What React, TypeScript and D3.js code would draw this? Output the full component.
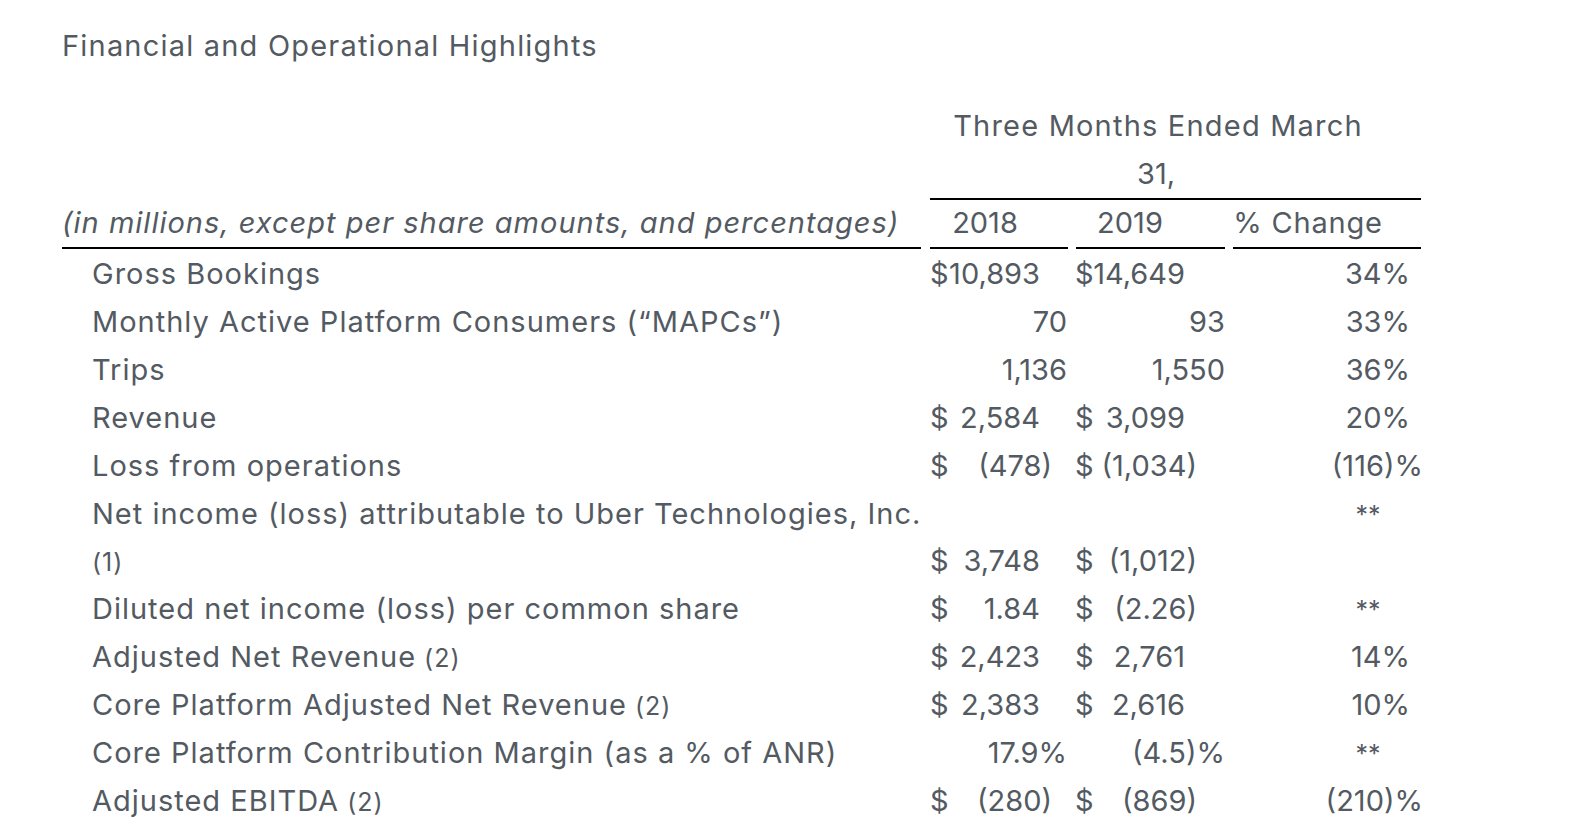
import React from "react";
import * as d3 from "d3";

const title = "Financial and Operational Highlights";
const periodHeader = ["Three Months Ended March", "31,"];
const unitsNote = "(in millions, except per share amounts, and percentages)";
const columnHeads = ["2018", "2019", "% Change"];

const metrics = [
  "Gross Bookings",
  "Monthly Active Platform Consumers (“MAPCs”)",
  "Trips",
  "Revenue",
  "Loss from operations",
  "Net income (loss) attributable to Uber Technologies, Inc.",
  "",
  "Diluted net income (loss) per common share",
  "Adjusted Net Revenue",
  "Core Platform Adjusted Net Revenue",
  "Core Platform Contribution Margin (as a % of ANR)",
  "Adjusted EBITDA",
];
const footnoteMarks = ["", "", "", "", "", "", "(1)", "", "(2)", "(2)", "", "(2)"];
const isCurrency = [true, false, false, true, true, false, true, true, true, true, false, true];
const q1_2018 = ["10,893", "70", "1,136", "2,584", "(478)", "", "3,748", "1.84", "2,423", "2,383", "17.9%", "(280)"];
const q1_2019 = ["14,649", "93", "1,550", "3,099", "(1,034)", "", "(1,012)", "(2.26)", "2,761", "2,616", "(4.5)%", "(869)"];
const pctChange = ["34%", "33%", "36%", "20%", "(116)%", "**", "", "**", "14%", "10%", "**", "(210)%"];

const W = 1574;
const H = 832;
const TEXT = "#535a62";
const FONT = "Inter, Roboto, sans-serif";
const FS = 29;
const FS_SMALL = 25;
const LS_LABEL = 1;
const LS_HEAD = 1.2;

export default function App() {
  const rowY = d3.scaleLinear().domain([0, metrics.length - 1]).range([284, 811]);
  const valueCols = [
    { values: q1_2018, dollarX: 930, numRight: 1040, plainRight: 1067, lineX0: 930, lineX1: 1068, headX: 985 },
    { values: q1_2019, dollarX: 1075, numRight: 1185, plainRight: 1225, lineX0: 1076, lineX1: 1225, headX: 1130 },
  ];
  const HANG = 12;
  const pct = { right: 1410, parenRight: 1423, starX: 1368, lineX0: 1233, lineX1: 1421, headX: 1308 };
  const labelX = 92;

  return (
    <svg
      width={W}
      height={H}
      viewBox={`0 0 ${W} ${H}`}
      style={{ position: "absolute", left: 0, top: 0, background: "#fff" }}
      fontFamily={FONT}
      fill={TEXT}
    >
      <rect width={W} height={H} fill="#fff" />
      <text x={62} y={56} fontSize={FS} letterSpacing={LS_HEAD}>{title}</text>

      <text x={1158} y={136} fontSize={FS} textAnchor="middle" letterSpacing={LS_HEAD}>{periodHeader[0]}</text>
      <text x={1156} y={184} fontSize={FS} textAnchor="middle">{periodHeader[1]}</text>
      <line x1={930} x2={1421} y1={199} y2={199} stroke="#000" strokeWidth={2} />

      <text x={62} y={233} fontSize={FS} fontStyle="italic" letterSpacing={LS_LABEL}>{unitsNote}</text>
      <text x={valueCols[0].headX} y={233} fontSize={FS} textAnchor="middle">{columnHeads[0]}</text>
      <text x={valueCols[1].headX} y={233} fontSize={FS} textAnchor="middle">{columnHeads[1]}</text>
      <text x={pct.headX} y={233} fontSize={FS} textAnchor="middle" letterSpacing={0.8}>{columnHeads[2]}</text>

      <line x1={62} x2={921} y1={248} y2={248} stroke="#000" strokeWidth={2} />
      {valueCols.map((c, i) => (
        <line key={i} x1={c.lineX0} x2={c.lineX1} y1={248} y2={248} stroke="#000" strokeWidth={2} />
      ))}
      <line x1={pct.lineX0} x2={pct.lineX1} y1={248} y2={248} stroke="#000" strokeWidth={2} />

      {metrics.map((m, i) => {
        const y = rowY(i);
        return (
          <g key={i}>
            <text x={labelX} y={y} fontSize={FS} letterSpacing={LS_LABEL}>
              {m}
              {footnoteMarks[i] && (
                <tspan fontSize={FS_SMALL}>{(m ? " " : "") + footnoteMarks[i]}</tspan>
              )}
            </text>
            {valueCols.map((c, j) => {
              const v = c.values[i];
              if (!v) return null;
              if (isCurrency[i]) {
                const paren = v.endsWith(")");
                return (
                  <g key={j}>
                    <text x={c.dollarX} y={y} fontSize={FS}>$</text>
                    <text x={c.numRight + (paren ? HANG : 0)} y={y} fontSize={FS} textAnchor="end">{v}</text>
                  </g>
                );
              }
              return (
                <text key={j} x={c.plainRight} y={y} fontSize={FS} textAnchor="end">{v}</text>
              );
            })}
            {pctChange[i] === "**" ? (
              <text x={pct.starX} y={y} fontSize={FS_SMALL} textAnchor="middle">{pctChange[i]}</text>
            ) : pctChange[i] ? (
              <text x={pctChange[i].endsWith(")%") ? pct.parenRight : pct.right} y={y} fontSize={FS} textAnchor="end">
                {pctChange[i]}
              </text>
            ) : null}
          </g>
        );
      })}
    </svg>
  );
}
